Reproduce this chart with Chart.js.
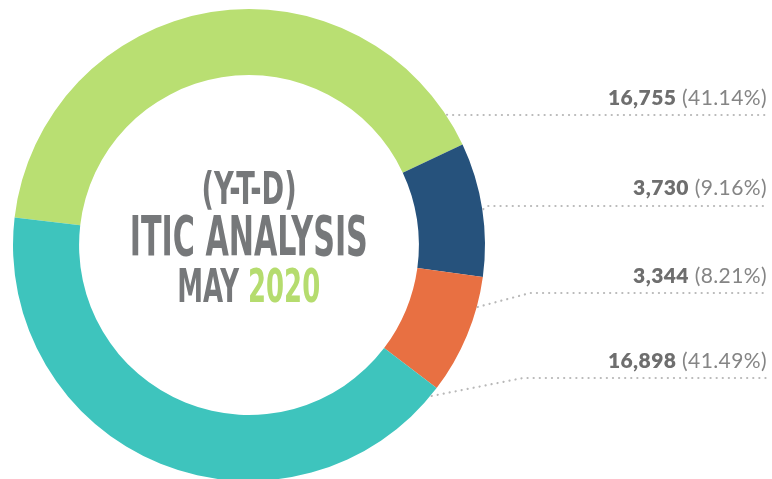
<!DOCTYPE html>
<html>
<head>
<meta charset="utf-8">
<script src="https://cdn.jsdelivr.net/npm/chart.js@4"></script>
<style>
  html, body { margin: 0; padding: 0; background: #fff; overflow: hidden; }
  #wrap { position: relative; width: 772px; height: 479px; overflow: hidden; }
  #chartBox { position: absolute; left: 0; top: 0; width: 772px; height: 490px; }
  .center { position: absolute; left: 0; width: 498px; text-align: center; white-space: nowrap;
            font-family: "Liberation Sans Narrow", "DejaVu Sans Condensed", "Roboto", sans-serif;
            font-weight: bold; color: #76787a; }
  .center span.inner { display: inline-block; transform-origin: 50% 50%; }
  .lbl { position: absolute; right: 5px; font-family: "Lato", "Open Sans", sans-serif; font-size: 21px;
         line-height: 21px; letter-spacing: 0.4px; white-space: nowrap; color: #858585; }
  .lbl b { color: #6e6e6e; font-weight: 800; }
</style>
</head>
<body>
<div id="wrap">
  <div id="chartBox"><canvas id="donut" width="772" height="490"></canvas></div>
  <div class="center" id="t1" style="top:167px;font-size:44px;line-height:44px;"><span class="inner">(Y-T-D)</span></div>
  <div class="center" id="t2" style="top:208px;font-size:56px;line-height:56px;"><span class="inner">ITIC ANALYSIS</span></div>
  <div class="center" id="t3" style="top:262px;font-size:47px;line-height:47px;"><span class="inner">MAY <span style="color:#b5dc6e">2020</span></span></div>
  <div id="labels"></div>
</div>

<script>
// datos del grafico
var categorias = ['Verde', 'Azul', 'Naranja', 'Turquesa'];
var valores = [16755, 3730, 3344, 16898];
var colores = ['#b9df72', '#26527c', '#e87042', '#3ec4bd'];

// posiciones de las etiquetas (baseline) y de las lineas punteadas
var baseEtiqueta = [105, 195, 283, 368];
var yLinea = [115, 206, 293, 378];
var xCodo = [0, 0, 530, 523];
var fracInicio = [0.945, 0.5, 0.25, 0.015];

var total = valores.reduce(function (a, b) { return a + b; }, 0);

// etiquetas de la derecha
var divLabels = document.getElementById('labels');
for (let i = 0; i < valores.length; i++) {
    const d = document.createElement('div');
    d.className = 'lbl';
    d.style.top = (baseEtiqueta[i] - 18.6) + 'px';
    const pct = (valores[i] / total * 100).toFixed(2);
    d.innerHTML = '<b>' + valores[i].toLocaleString('en-US') + '</b> (' + pct + '%)';
    divLabels.appendChild(d);
}

// ajustar el ancho del texto central
var anchos = { t1: 95, t2: 238, t3: 143 };
Object.keys(anchos).forEach(function (id) {
    var sp = document.querySelector('#' + id + ' .inner');
    var w = sp.getBoundingClientRect().width;
    sp.style.transform = 'scaleX(' + (anchos[id] / w) + ')';
});

var lineasPlugin = {
    id: 'lineas',
    afterDatasetsDraw: function (chart) {
        var ctx = chart.ctx;
        var arcs = chart.getDatasetMeta(0).data;
        ctx.save();
        ctx.strokeStyle = '#b8b8b8';
        ctx.lineWidth = 2.2;
        ctx.lineCap = 'round';
        ctx.setLineDash([0.1, 6]);
        for (let i = 0; i < arcs.length; i++) {
            var p = arcs[i].getProps(['x', 'y', 'startAngle', 'endAngle', 'outerRadius'], true);
            var a = p.startAngle + (p.endAngle - p.startAngle) * fracInicio[i];
            var x0 = p.x + Math.cos(a) * (p.outerRadius + 1);
            var y0 = p.y + Math.sin(a) * (p.outerRadius + 1);
            var xk = Math.max(x0 + 4, xCodo[i]);
            ctx.beginPath();
            ctx.moveTo(x0, y0);
            ctx.lineTo(xk, yLinea[i]);
            ctx.lineTo(767, yLinea[i]);
            ctx.stroke();
        }
        ctx.restore();
    }
};

var ctx = document.getElementById('donut').getContext('2d');
var myChart = new Chart(ctx, {
    type: 'doughnut',
    data: {
        labels: categorias,
        datasets: [{
            data: valores,
            backgroundColor: colores,
            borderWidth: 0,
            hoverOffset: 0
        }]
    },
    options: {
        responsive: false,
        animation: false,
        events: [],
        cutout: '72%',
        rotation: 276.7,
        layout: { padding: { left: 13, top: 9, right: 287, bottom: 9 } },
        plugins: {
            legend: { display: false },
            tooltip: { enabled: false }
        }
    },
    plugins: [lineasPlugin]
});
</script>
</body>
</html>
